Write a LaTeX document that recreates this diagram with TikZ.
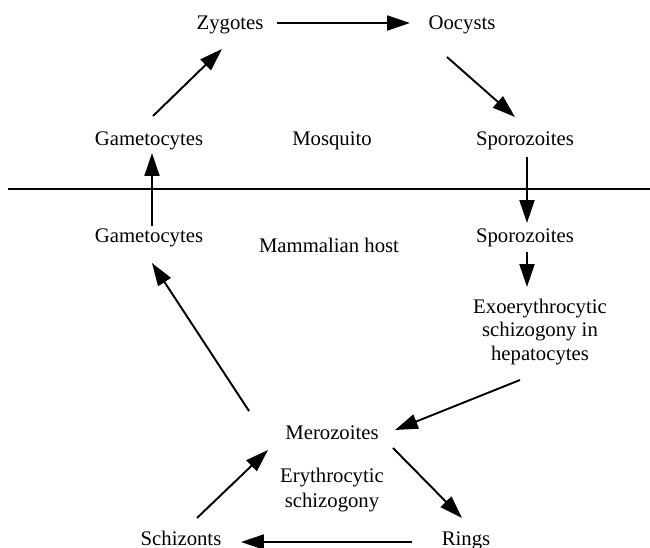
\documentclass[tikz,border=0pt]{standalone}
\usepackage{fontspec}
\setmainfont{Liberation Serif}
\usetikzlibrary{arrows.meta,calc}

\tikzset{
    stage/.style={anchor=base,inner sep=0pt,font=\fontsize{11.8}{13}\selectfont},
    block/.style={align=center,inner sep=0pt,font=\fontsize{11.8}{13.5}\selectfont},
    flow/.style={-{Triangle[length=13pt,width=8.5pt]},line width=1.1pt}
}

\begin{document}
\begin{tikzpicture}[x=0.02cm,y=-0.02cm]
    \useasboundingbox (0,0) rectangle (650,548);

    % Mosquito
    \node[stage] (zyg) at (230,29) {Zygotes};
    \node[stage] (ooc) at (462,29) {Oocysts};
    \node[stage] (gamU) at (149,145) {Gametocytes};
    \node[stage] (mosq) at (332,145) {Mosquito};
    \node[stage] (spoU) at (525,145) {Sporozoites};

    % Divider
    \draw[line width=0.8pt] (8,189) -- (650,189);

    % Mammalian host
    \node[stage] (gamL) at (149,242) {Gametocytes};
    \node[stage] (host) at (329,252) {Mammalian host};
    \node[stage] (spoL) at (525,242) {Sporozoites};
    \node[block] (exo) at (540,332) {Exoerythrocytic\\schizogony in\\hepatocytes};

    % Blood stage
    \node[stage] (mer) at (332,439) {Merozoites};
    \node[block,font=\fontsize{11.8}{14.2}\selectfont] (ery) at (332,490) {Erythrocytic\\schizogony};
    \node[stage] (schiz) at (181,545) {Schizonts};
    \node[stage] (rings) at (466,545) {Rings};

    % Arrows
    \draw[flow] ($(zyg.base)+(47,-6)$) -- ($(ooc.base)+(-52,-6)$);
    \draw[flow] ($(gamU.base)+(4,-29)$) -- ($(zyg.base)+(-8,20)$);
    \draw[flow] ($(ooc.base)+(-15,28)$) -- ($(spoU.base)+(-10,-28)$);
    \draw[flow] ($(gamL.base)+(3,-16)$) -- ($(gamU.base)+(3,8)$);
    \draw[flow] ($(spoU.base)+(2,12)$) -- ($(spoL.base)+(2,-19)$);
    \draw[flow] ($(spoL.base)+(2,10)$) -- ($(exo)+(-13,-45)$);
    \draw[flow] ($(exo)+(-20,48)$) -- ($(mer.base)+(63,-9)$);
    \draw[flow] ($(mer.base)+(-83,-28)$) -- ($(gamL.base)+(3,21)$);
    \draw[flow] ($(mer.base)+(61,9)$) -- ($(rings.base)+(-4,-27)$);
    \draw[flow] ($(rings.base)+(-54,-3)$) -- ($(schiz.base)+(60,-3)$);
    \draw[flow] ($(schiz.base)+(16,-27)$) -- ($(mer.base)+(-64,11)$);
\end{tikzpicture}
\end{document}
